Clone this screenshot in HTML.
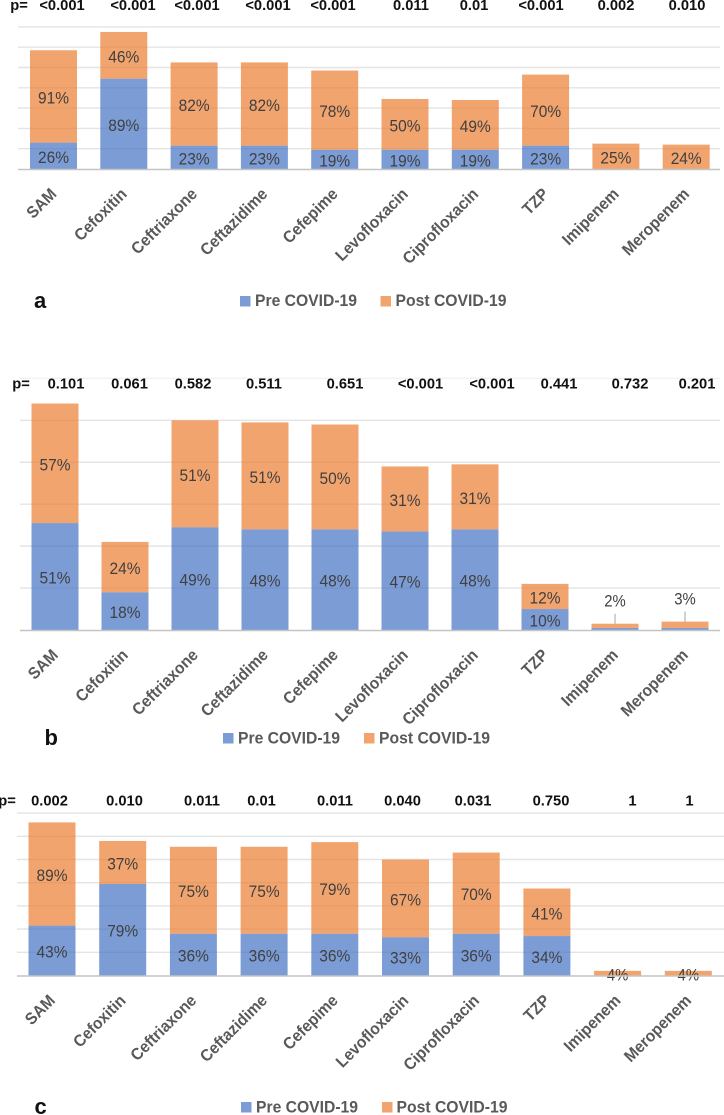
<!DOCTYPE html>
<html>
<head>
<meta charset="utf-8">
<title>Antibiotic resistance pre and post COVID-19</title>
<style>
html,body{margin:0;padding:0;background:#fff;}
svg{display:block;font-family:"Liberation Sans",sans-serif;}
.p{font-size:14.7px;font-weight:bold;fill:#111;text-anchor:middle;dominant-baseline:central;}
.panel{font-size:22px;font-weight:bold;fill:#111;}
.leg{font-size:17px;font-weight:bold;fill:#595959;dominant-baseline:central;}
</style>
</head>
<body>
<svg id="chart" width="724" height="1115" viewBox="0 0 724 1115" xmlns="http://www.w3.org/2000/svg">
  <g id="panel-a"></g>
  <g id="panel-b"></g>
  <g id="panel-c"></g>

  <g>
    <text class="p" x="19" y="6">p=</text>
    <text class="p" x="62" y="6">&lt;0.001</text>
    <text class="p" x="133" y="6">&lt;0.001</text>
    <text class="p" x="197" y="6">&lt;0.001</text>
    <text class="p" x="268" y="6">&lt;0.001</text>
    <text class="p" x="333" y="6">&lt;0.001</text>
    <text class="p" x="411" y="6">0.011</text>
    <text class="p" x="474" y="6">0.01</text>
    <text class="p" x="541" y="6">&lt;0.001</text>
    <text class="p" x="616" y="6">0.002</text>
    <text class="p" x="687" y="6">0.010</text>
  </g>
  <g>
    <text class="p" x="21" y="384.5">p=</text>
    <text class="p" x="66" y="384.5">0.101</text>
    <text class="p" x="129.5" y="384.5">0.061</text>
    <text class="p" x="193" y="384.5">0.582</text>
    <text class="p" x="264" y="384.5">0.511</text>
    <text class="p" x="345" y="384.5">0.651</text>
    <text class="p" x="420.5" y="384.5">&lt;0.001</text>
    <text class="p" x="492" y="384.5">&lt;0.001</text>
    <text class="p" x="559" y="384.5">0.441</text>
    <text class="p" x="630" y="384.5">0.732</text>
    <text class="p" x="697" y="384.5">0.201</text>
  </g>
  <g>
    <text class="p" x="7" y="801.5">p=</text>
    <text class="p" x="49.5" y="801.5">0.002</text>
    <text class="p" x="124.5" y="801.5">0.010</text>
    <text class="p" x="202" y="801.5">0.011</text>
    <text class="p" x="261.5" y="801.5">0.01</text>
    <text class="p" x="335" y="801.5">0.011</text>
    <text class="p" x="402.5" y="801.5">0.040</text>
    <text class="p" x="473" y="801.5">0.031</text>
    <text class="p" x="551" y="801.5">0.750</text>
    <text class="p" x="632.5" y="801.5">1</text>
    <text class="p" x="689.5" y="801.5">1</text>
  </g>

  <g>
    <rect x="240" y="296" width="10.5" height="10.5" fill="#4472C4" fill-opacity="0.7"/>
    <text class="leg" x="255" y="300.5" textLength="102" lengthAdjust="spacingAndGlyphs">Pre COVID-19</text>
    <rect x="380.5" y="296" width="10.5" height="10.5" fill="#ED7D31" fill-opacity="0.7"/>
    <text class="leg" x="395.5" y="300.5" textLength="111" lengthAdjust="spacingAndGlyphs">Post COVID-19</text>
    <text class="panel" x="34" y="308">a</text>
  </g>
  <g>
    <rect x="223" y="733" width="10.5" height="10.5" fill="#4472C4" fill-opacity="0.7"/>
    <text class="leg" x="238" y="738" textLength="102" lengthAdjust="spacingAndGlyphs">Pre COVID-19</text>
    <rect x="364" y="733" width="10.5" height="10.5" fill="#ED7D31" fill-opacity="0.7"/>
    <text class="leg" x="379" y="738" textLength="111" lengthAdjust="spacingAndGlyphs">Post COVID-19</text>
    <text class="panel" x="44.5" y="745">b</text>
  </g>
  <g>
    <rect x="241" y="1102" width="10.5" height="10.5" fill="#4472C4" fill-opacity="0.7"/>
    <text class="leg" x="256" y="1107" textLength="102" lengthAdjust="spacingAndGlyphs">Pre COVID-19</text>
    <rect x="382" y="1102" width="10.5" height="10.5" fill="#ED7D31" fill-opacity="0.7"/>
    <text class="leg" x="396.5" y="1107" textLength="111" lengthAdjust="spacingAndGlyphs">Post COVID-19</text>
    <text class="panel" x="34.5" y="1114">c</text>
  </g>
</svg>
<script>
const categories = ["SAM","Cefoxitin","Ceftriaxone","Ceftazidime","Cefepime","Levofloxacin","Ciprofloxacin","TZP","Imipenem","Meropenem"];

const preA  = [26,89,23,23,19,19,19,23,0,0];
const postA = [91,46,82,82,78,50,49,70,25,24];
const preB  = [51,18,49,48,48,47,48,10,1,1];
const postB = [57,24,51,51,50,31,31,12,2,3];
const preC  = [43,79,36,36,36,33,36,34,0,0];
const postC = [89,37,75,75,79,67,70,41,4,4];

const ticksA = [20,40,60,80,100,120,140];
const ticksB = [20,40,60,80,100,120];
const ticksC = [20,40,60,80,100,120,140];

const NS = "http://www.w3.org/2000/svg";
function make(parent, tag, attrs, txt) {
  const el = document.createElementNS(NS, tag);
  for (const k in attrs) el.setAttribute(k, attrs[k]);
  if (txt !== undefined) el.textContent = txt;
  parent.appendChild(el);
  return el;
}
function valueAttrs(cx, cy, v) {
  return {
    x: cx, y: cy,
    "font-size": 17, fill: "#404040",
    "text-anchor": "middle", "dominant-baseline": "central",
    textLength: v >= 10 ? 31 : 21.5,
    lengthAdjust: "spacingAndGlyphs"
  };
}
function drawPanel(id, pre, post, ticks, o) {
  const root = document.getElementById(id);
  const y = v => o.base - v * o.scale;
  const x = i => o.x0 + i * o.step;
  const barW = 47;

  ticks.forEach(t => {
    const line = make(root, "line", {x1:o.gridL, x2:o.gridR, y1:y(t), y2:y(t), stroke: o.fade && t === ticks[ticks.length-1] ? "#f2f2f2" : "#e4e4e4", "stroke-width":1.4});
    
    
  });

  categories.forEach((c, i) => {
    const cx = x(i) + barW / 2;
    const topPre = y(pre[i]);
    const topPost = y(pre[i] + post[i]);

    const barPre = make(root, "rect", {x:x(i), y:topPre, width:barW, height:o.base - topPre, fill:"#4472C4", "fill-opacity":0.7});
    
    

    const barPost = make(root, "rect", {x:x(i), y:topPost, width:barW, height:topPre - topPost, fill:"#ED7D31", "fill-opacity":0.7});
    
    

    if (pre[i] >= 2) {
      const t1 = make(root, "text", valueAttrs(cx, (o.base + topPre) / 2 + 1.5, pre[i]), pre[i] + "%");
      
      
    }
    if (post[i] < 4) {
      const lead = make(root, "line", {x1:cx, x2:cx, y1:topPost - 10, y2:topPost, stroke:"#a6a6a6", "stroke-width":1});
      
      
      const t2 = make(root, "text", valueAttrs(cx, topPost - 22.5, post[i]), post[i] + "%");
      
      
    } else {
      const t2 = make(root, "text", valueAttrs(cx, (topPre + topPost) / 2 + (post[i] < 6 ? 2 : 1.5), post[i]), post[i] + "%");
      
      
    }

    const lx = cx + 4, ly = o.base + 26;
    const cat = make(root, "text", {x:0, y:0, "font-size":16.5, "font-weight":"bold", fill:"#595959", "text-anchor":"end", transform:"translate(" + lx + " " + ly + ") rotate(-45) scale(0.94 1)"}, c);
    
    
  });

  const axis = make(root, "line", {x1:o.gridL, x2:o.gridR, y1:o.base + 0.5, y2:o.base + 0.5, stroke:"#c4c4c4", "stroke-width":1.5});
  
  
}

drawPanel("panel-a", preA, postA, ticksA, {base:169, scale:1.015, x0:30, step:70.3, gridL:18, gridR:720});
drawPanel("panel-b", preB, postB, ticksB, {base:630, scale:2.097, x0:31.5, step:70, gridL:20, gridR:720, fade:true});
drawPanel("panel-c", preC, postC, ticksC, {base:975.5, scale:1.16, x0:28.5, step:70.7, gridL:17, gridR:724});
</script>
</body>
</html>
